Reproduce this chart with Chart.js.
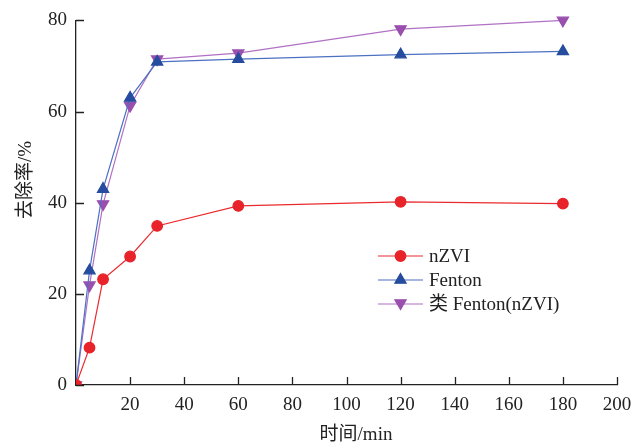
<!DOCTYPE html>
<html>
<head>
<meta charset="utf-8">
<script src="https://cdn.jsdelivr.net/npm/chart.js@4.4.1/dist/chart.umd.min.js"></script>
<style>
  html, body { margin: 0; padding: 0; background: #fff; }
  #wrap { width: 643px; height: 446px; }
</style>
</head>
<body>
<div id="wrap"><canvas id="chart" width="643" height="446"></canvas></div>
<script>
/*************** Data ****************/

var times = [0, 5, 10, 20, 30, 60, 120, 180];
var nzvi = [0, 8.2, 23.2, 28.2, 34.9, 39.3, 40.2, 39.8];
var fenton = [0, 25.1, 43.0, 63.0, 70.9, 71.5, 72.5, 73.2];
var fentonLike = [0, 21.9, 39.7, 61.3, 71.5, 72.8, 78.1, 80.0];
var seriesNames = ["nZVI", "Fenton", "类 Fenton(nZVI)"];
var xTicks = [20, 40, 60, 80, 100, 120, 140, 160, 180, 200];
var yTicks = [0, 20, 40, 60, 80];
var xTitle = "时间/min";
var yTitle = "去除率/%";

var FONT = "'Liberation Serif', 'Noto Sans CJK SC', serif";

function toPoints(ys) {
    var pts = [];
    for (var i = 0; i < times.length; i++) {
        pts.push({x: times[i], y: ys[i]});
    }
    return pts;
}

/*************** Inward ticks, titles and legend ****************/

var axisExtras = {
    id: 'axisExtras',
    afterDraw: function (chart) {
        var ctx = chart.ctx, xs = chart.scales.x, ys = chart.scales.y;
        var area = chart.chartArea;
        ctx.save();
        ctx.strokeStyle = '#222';
        ctx.lineWidth = 1.3;
        ctx.beginPath();
        xTicks.forEach(function (v) {
            var px = Math.round(xs.getPixelForValue(v)) + 0.5;
            ctx.moveTo(px, area.bottom);
            ctx.lineTo(px, area.bottom - 8);
        });
        yTicks.forEach(function (v) {
            var py = Math.round(ys.getPixelForValue(v)) + 0.5;
            ctx.moveTo(area.left, py);
            ctx.lineTo(area.left + 8, py);
        });
        ctx.stroke();

        // axis titles
        ctx.fillStyle = '#222';
        ctx.font = '19px ' + FONT;
        ctx.textAlign = 'center';
        ctx.textBaseline = 'middle';
        ctx.fillText(xTitle, 356, 435);
        ctx.save();
        ctx.translate(26, 180);
        ctx.rotate(-Math.PI / 2);
        ctx.fillText(yTitle, 0, 0);
        ctx.restore();

        // legend drawn inside the plot
        var lx = 378, ly = 256, gap = 24;
        chart.data.datasets.forEach(function (ds, i) {
            var y = ly + i * gap;
            ctx.strokeStyle = ds.borderColor;
            ctx.lineWidth = 1.2;
            ctx.beginPath();
            ctx.moveTo(lx, y);
            ctx.lineTo(lx + 45, y);
            ctx.stroke();
            ctx.fillStyle = ds.pointBackgroundColor;
            ctx.strokeStyle = ds.pointBorderColor;
            Chart.helpers.drawPoint(ctx, {
                pointStyle: ds.pointStyle,
                rotation: ds.rotation || 0,
                radius: ds.pointRadius,
                borderWidth: 1
            }, lx + 22.5, y + (ds.rotation ? -1 : 0));
            ctx.fillStyle = '#222';
            ctx.font = '19px ' + FONT;
            ctx.textBaseline = 'middle';
            ctx.textAlign = 'left';
            ctx.fillText(ds.label, lx + 51, y + 1);
        });
        ctx.restore();
    }
};

/*************** Chart ****************/

function createChart() {
    new Chart(document.getElementById("chart"), {
        type: 'line',
        data: {
            datasets: [
                {
                    label: seriesNames[0],
                    data: toPoints(nzvi),
                    borderColor: "#ea2a2e",
                    pointBackgroundColor: "#e8232a",
                    pointBorderColor: "#e8232a",
                    pointStyle: 'circle',
                    pointRadius: 5.3,
                    borderWidth: 1.2
                },
                {
                    label: seriesNames[1],
                    data: toPoints(fenton),
                    borderColor: "#4c70c2",
                    pointBackgroundColor: "#264c9f",
                    pointBorderColor: "#264c9f",
                    pointStyle: 'triangle',
                    pointRadius: 6.5,
                    borderWidth: 1.2
                },
                {
                    label: seriesNames[2],
                    data: toPoints(fentonLike),
                    borderColor: "#b071c4",
                    pointBackgroundColor: "#9a4fae",
                    pointBorderColor: "#9a4fae",
                    pointStyle: 'triangle',
                    rotation: 180,
                    pointRadius: 6.5,
                    borderWidth: 1.2
                }
            ]
        },
        options: {
            responsive: false,
            animation: false,
            clip: { left: 0, bottom: 0, top: false, right: false },
            layout: { padding: { top: 20, right: 26, left: 0, bottom: 0 } },
            plugins: { legend: { display: false }, tooltip: { enabled: false } },
            scales: {
                x: {
                    type: 'linear',
                    min: 0, max: 200,
                    afterFit: function (s) { s.height = 61; },
                    grid: { display: false, drawTicks: false },
                    border: { display: true, color: '#222', width: 1.3 },
                    ticks: {
                        stepSize: 20,
                        padding: 9,
                        color: '#222',
                        font: { family: FONT, size: 19 },
                        callback: function (v) { return v === 0 ? '' : v; }
                    }
                },
                y: {
                    min: 0, max: 80,
                    afterFit: function (s) { s.width = 76; },
                    grid: { display: false, drawTicks: false },
                    border: { display: true, color: '#222', width: 1.3 },
                    ticks: {
                        stepSize: 20,
                        padding: 9,
                        color: '#222',
                        font: { family: FONT, size: 19 }
                    }
                }
            }
        },
        plugins: [axisExtras]
    });
}

createChart();
</script>
</body>
</html>
